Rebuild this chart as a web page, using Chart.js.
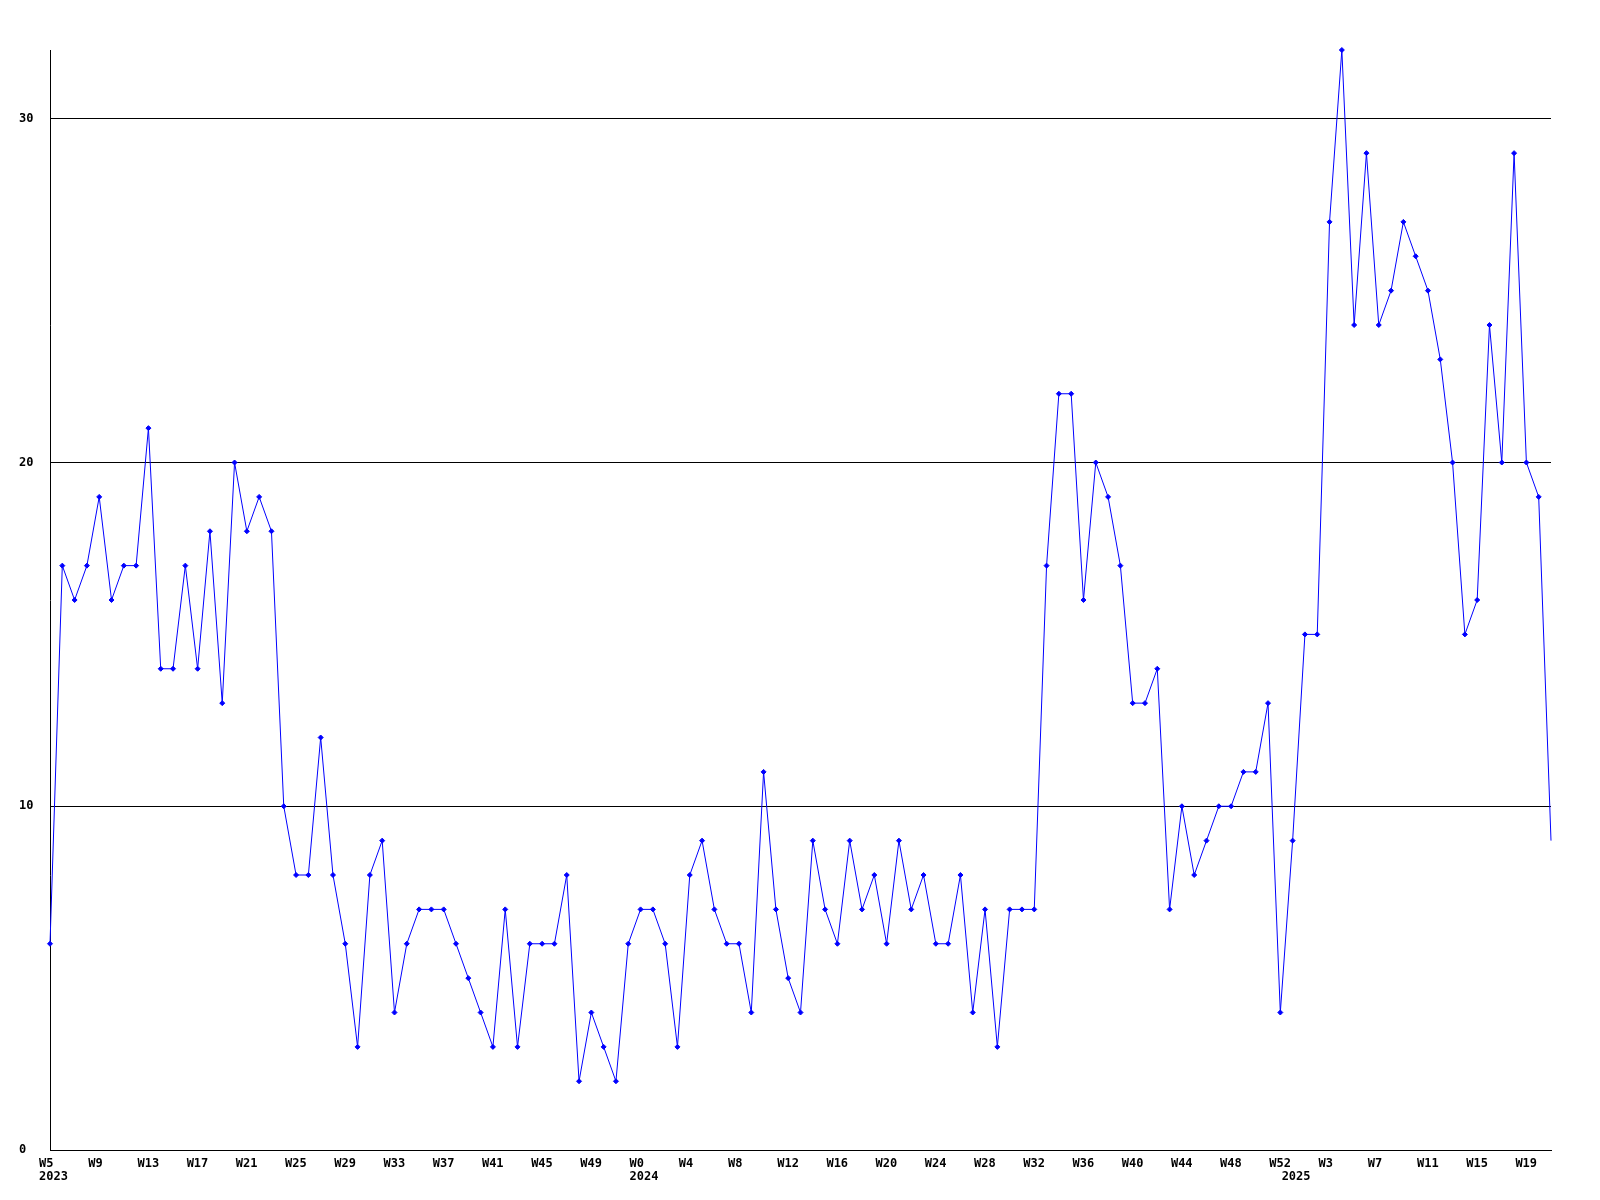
<!DOCTYPE html>
<html>
<head>
<meta charset="utf-8">
<script src="https://cdn.jsdelivr.net/npm/chart.js@4"></script>
<style>
  html, body { margin: 0; padding: 0; background: #fff; }
  canvas { display: block; }
</style>
</head>
<body>
<canvas id="weeklyChart" width="1600" height="1200"></canvas>
<script>
// weeks shown: 2023 W5..W52, 2024 W0..W52, 2025 W0..W21
const years = [2023, 2024, 2025];
const firstWeek = [5, 0, 0];
const lastWeek = [52, 52, 21];

const counts = [
    6, 17, 16, 17, 19, 16, 17, 17, 21, 14, 14, 17, 14, 18, 13, 20, 18, 19, 18, 10,
    8, 8, 12, 8, 6, 3, 8, 9, 4, 6, 7, 7, 7, 6, 5, 4, 3, 7, 3, 6,
    6, 6, 8, 2, 4, 3, 2, 6, 7, 7, 6, 3, 8, 9, 7, 6, 6, 4, 11, 7,
    5, 4, 9, 7, 6, 9, 7, 8, 6, 9, 7, 8, 6, 6, 8, 4, 7, 3, 7, 7,
    7, 17, 22, 22, 16, 20, 19, 17, 13, 13, 14, 7, 10, 8, 9, 10, 10, 11, 11, 13,
    4, 9, 15, 15, 27, 32, 24, 29, 24, 25, 27, 26, 25, 23, 20, 15, 16, 24, 20, 29,
    20, 19, 9
];

const yTicks = [0, 10, 20, 30];
const yMax = 32;
const labelEvery = 4;

const weekLabels = [];
const weekYears = [];
const weekNums = [];
years.forEach((y, i) => {
    for (let w = firstWeek[i]; w <= lastWeek[i]; w++) {
        weekLabels.push('W' + w + ' ' + y);
        weekYears.push(y);
        weekNums.push(w);
    }
});

const monoFont = {
    family: '"DejaVu Sans Mono", "Liberation Mono", monospace',
    size: 12,
    weight: 'bold',
    lineHeight: 13 / 12,
};

const ctx = document.getElementById('weeklyChart').getContext('2d');

const chart = new Chart(ctx, {
    type: 'line',
    data: {
        labels: weekLabels,
        datasets: [{
            data: counts,
            borderColor: '#0000ff',
            backgroundColor: '#0000ff',
            borderWidth: 1,
            tension: 0,
            fill: false,
            clip: false,
            pointStyle: 'rectRot',
            // the newest (unfinished) week has no marker
            pointRadius: (c) => c.dataIndex === counts.length - 1 ? 0 : 2.5,
            pointBorderWidth: 1,
            pointBorderColor: '#0000ff',
            pointBackgroundColor: '#0000ff',
        }],
    },
    options: {
        responsive: false,
        animation: false,
        devicePixelRatio: 1,
        layout: {
            padding: { left: 19, right: 49, top: 50, bottom: 0 },
        },
        plugins: {
            legend: { display: false },
            tooltip: { enabled: false },
        },
        scales: {
            x: {
                type: 'category',
                offset: false,
                grid: { display: false, drawTicks: false },
                border: { display: true, color: '#000', width: 1 },
                afterFit: (scale) => { scale.height = 50; },
                ticks: {
                    autoSkip: false,
                    maxRotation: 0,
                    minRotation: 0,
                    align: 'start',
                    labelOffset: -11,
                    padding: 7,
                    color: '#000',
                    font: monoFont,
                    callback: function (value, index) {
                        const isFirst = index === 0 || weekYears[index] !== weekYears[index - 1];
                        const week = index % labelEvery === 0 ? 'W' + weekNums[index] : '';
                        if (isFirst) return [week, String(weekYears[index])];
                        return week;
                    },
                },
            },
            y: {
                min: 0,
                max: yMax,
                afterBuildTicks: (scale) => {
                    scale.ticks = yTicks.map(v => ({ value: v }));
                },
                afterFit: (scale) => { scale.width = 31; },
                grid: { color: '#000', lineWidth: 1, drawTicks: false },
                border: { display: true, color: '#000', width: 1 },
                ticks: {
                    crossAlign: 'far',
                    color: '#000',
                    font: monoFont,
                },
            },
        },
    },
});
</script>
</body>
</html>
